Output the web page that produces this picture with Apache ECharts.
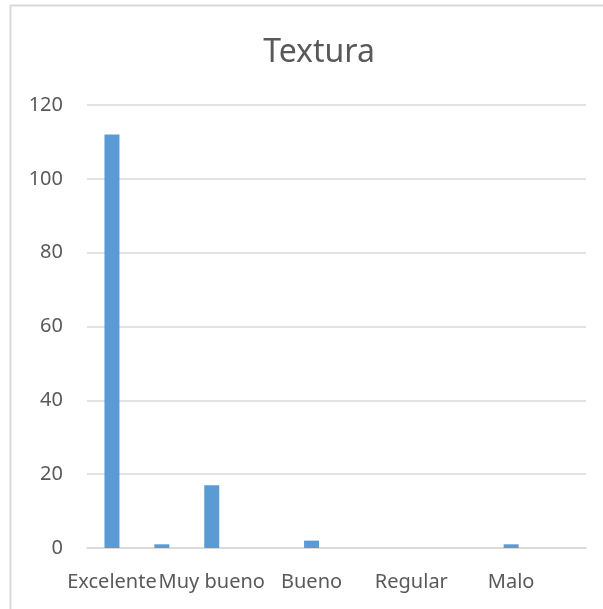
<!DOCTYPE html>
<html>
<head>
<meta charset="utf-8">
<script src="https://cdn.jsdelivr.net/npm/echarts@6/dist/echarts.min.js"></script>
<style>
  html, body { margin: 0; padding: 0; background: #fff; }
  #chart { width: 603px; height: 609px; }
</style>
</head>
<body>
<div id="chart"></div>
<script>
// 类别（隔一个显示标签）
const categories = ['Excelente', '', 'Muy bueno', '', 'Bueno', '', 'Regular', '', 'Malo', '']
const values = [112, 1, 17, 0, 2, 0, 0, 0, 1, 0]
const yTicks = [0, 20, 40, 60, 80, 100, 120]

const textColor = '#595959'
const fontFamily = 'Noto Sans'

const chart = echarts.init(document.getElementById('chart'))

const option = {
    backgroundColor: '#fff',
    animation: false,
    title: {
        text: 'Textura',
        left: 314,
        top: 32,
        textAlign: 'center',
        textStyle: {
            color: textColor,
            fontSize: 32,
            fontWeight: 'normal',
            fontFamily: fontFamily,
        },
    },
    graphic: [{
        type: 'rect',
        shape: {x: 10.5, y: 5.5, width: 620, height: 640},
        style: {fill: 'none', stroke: '#d9d9d9', lineWidth: 2},
        silent: true,
    }],
    grid: {
        left: 87,
        right: 17,
        top: 105,
        bottom: 61,
    },
    xAxis: {
        type: 'category',
        data: categories,
        axisLine: {lineStyle: {color: '#d9d9d9', width: 1.5}},
        axisTick: {show: false},
        axisLabel: {
            interval: 0,
            color: textColor,
            fontSize: 20,
            fontFamily: fontFamily,
            margin: 24,
        },
    },
    yAxis: {
        type: 'value',
        min: yTicks[0],
        max: yTicks[yTicks.length - 1],
        interval: 20,
        axisLine: {show: false},
        axisTick: {show: false},
        splitLine: {lineStyle: {color: '#d9d9d9', width: 1.5}},
        axisLabel: {
            color: textColor,
            fontSize: 20,
            fontFamily: fontFamily,
            margin: 24,
        },
    },
    series: [{
        type: 'bar',
        data: values,
        barWidth: 15,
        itemStyle: {color: '#5b9bd5'},
    }],
}
chart.setOption(option)
</script>
</body>
</html>
